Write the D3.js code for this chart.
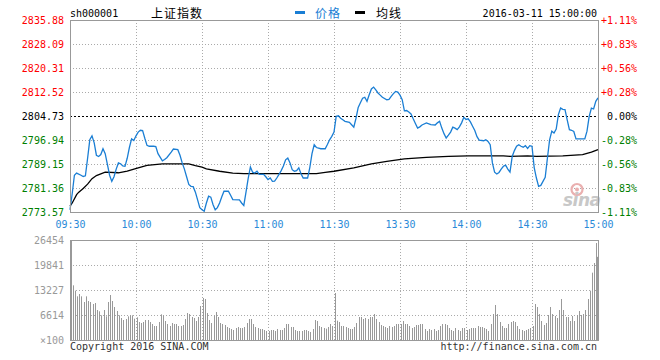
<!DOCTYPE html>
<html><head><meta charset="utf-8">
<script src="https://cdn.jsdelivr.net/npm/d3@7"></script>
<style>body{margin:0;background:#fff}svg{display:block}</style>
</head><body>
<svg id="c" width="660" height="360"></svg>
<script>
const preClose = 2804.73;
const priceTicks = [2835.88,2828.09,2820.31,2812.52,2804.73,2796.94,2789.15,2781.36,2773.57];
const pctTicks = ["+1.11%","+0.83%","+0.56%","+0.28%","0.00%","-0.28%","-0.56%","-0.83%","-1.11%"];
const timeTickIdx = [0,30,60,90,120,150,180,210,240];
const timeLabels = ["09:30","10:00","10:30","11:00","11:30","13:30","14:00","14:30","15:00"];
const volTicks = [26454,19841,13227,6614,0];
const volTickLabels = ["26454","19841","13227","6614","×100"];
// [minute index from 09:30 (afternoon continues after 11:30), price]
const priceSeries = [[0,2774.3],[1,2779.5],[2,2785.5],[3,2786.2],[5,2785.5],[6,2785.1],[7,2785.3],[8,2791.0],[9,2797.0],[10,2798.3],[11,2796.0],[12,2792.0],[13,2791.6],[14,2792.2],[15,2794.1],[16,2792.5],[17,2789.0],[18,2785.5],[19,2783.5],[20,2785.0],[21,2787.5],[22,2789.5],[23,2789.2],[24,2788.5],[25,2788.4],[26,2791.0],[27,2794.5],[28,2797.3],[29,2796.8],[30,2798.3],[31,2799.5],[32,2800.1],[33,2800.0],[34,2797.5],[35,2795.2],[36,2794.9],[38,2794.9],[39,2794.8],[40,2792.5],[42,2790.2],[43,2790.6],[44,2791.2],[46,2793.0],[47,2794.0],[49,2793.8],[50,2792.0],[51,2789.5],[52,2787.5],[53,2785.0],[54,2782.5],[55,2781.9],[56,2781.8],[57,2780.0],[58,2777.5],[59,2775.0],[60,2774.3],[61,2773.8],[62,2776.5],[63,2778.7],[64,2778.4],[65,2776.0],[66,2774.3],[67,2775.0],[68,2776.5],[69,2778.5],[70,2780.3],[72,2780.3],[73,2779.0],[74,2777.6],[77,2777.5],[78,2776.5],[79,2775.7],[80,2780.0],[81,2784.5],[82,2788.2],[83,2786.5],[84,2786.2],[85,2786.8],[86,2785.8],[88,2785.8],[89,2785.0],[90,2784.1],[91,2784.6],[92,2783.5],[93,2783.6],[94,2784.6],[95,2785.8],[96,2787.0],[97,2788.5],[98,2790.5],[99,2791.1],[100,2789.5],[101,2787.3],[102,2786.8],[103,2787.0],[104,2787.9],[105,2786.0],[106,2784.6],[108,2784.6],[109,2788.0],[110,2792.5],[111,2795.4],[112,2794.5],[114,2794.1],[116,2794.1],[117,2795.5],[118,2797.0],[119,2798.1],[120,2799.5],[121,2804.6],[122,2804.8],[123,2804.0],[124,2803.5],[125,2803.0],[127,2802.7],[128,2801.9],[129,2801.1],[130,2804.0],[131,2807.5],[132,2809.0],[133,2810.5],[134,2810.8],[135,2809.5],[136,2811.6],[137,2813.5],[138,2814.1],[139,2813.2],[140,2812.2],[141,2811.5],[142,2810.8],[144,2810.0],[145,2810.1],[146,2811.1],[147,2812.0],[148,2812.7],[149,2812.5],[150,2811.5],[151,2810.0],[152,2806.4],[153,2806.5],[154,2806.0],[155,2805.4],[156,2803.8],[157,2802.3],[158,2800.8],[159,2801.2],[160,2801.8],[162,2802.5],[164,2801.9],[166,2801.8],[167,2802.5],[168,2803.0],[169,2800.8],[170,2799.0],[171,2797.6],[172,2798.5],[173,2799.5],[174,2801.1],[175,2800.8],[176,2800.3],[177,2801.2],[178,2802.5],[179,2804.3],[180,2803.6],[181,2803.8],[182,2802.8],[183,2801.4],[184,2800.0],[185,2798.0],[186,2796.9],[188,2796.7],[189,2797.0],[190,2796.5],[191,2795.4],[192,2789.5],[193,2786.5],[194,2785.9],[195,2786.4],[196,2787.5],[197,2788.4],[198,2788.8],[199,2787.5],[200,2786.5],[201,2791.6],[202,2793.5],[203,2794.9],[204,2795.4],[205,2794.9],[206,2794.6],[207,2795.1],[208,2794.2],[209,2795.1],[210,2794.9],[211,2788.0],[212,2784.6],[213,2781.9],[214,2782.2],[215,2783.5],[216,2784.8],[217,2791.0],[218,2797.0],[219,2799.8],[220,2799.2],[221,2800.5],[222,2805.2],[223,2807.3],[224,2806.9],[225,2806.8],[226,2803.5],[227,2800.3],[228,2800.1],[229,2799.7],[230,2797.3],[232,2797.3],[234,2797.3],[235,2799.8],[236,2804.6],[237,2807.3],[238,2807.0],[239,2809.5],[240,2810.6]];
const avgSeries = [[0,2775.5],[1,2776.5],[3,2779.2],[4,2780.0],[6,2781.2],[8,2782.6],[9,2783.5],[10,2784.4],[12,2785.4],[16,2786.5],[22,2786.3],[26,2786.8],[31,2787.9],[35,2788.7],[42,2789.2],[54,2789.2],[57,2788.6],[60,2788.1],[62,2787.6],[68,2786.8],[74,2786.2],[79,2786.0],[112,2786.0],[116,2786.4],[120,2786.8],[129,2787.9],[137,2789.2],[144,2790.0],[152,2790.8],[162,2791.3],[172,2791.6],[181,2791.8],[197,2791.8],[200,2791.6],[208,2791.8],[212,2791.6],[224,2791.8],[233,2792.2],[237,2793.0],[240,2793.8]];
// volume per minute (x100)
const volumes = [26454,14462,13051,11552,12169,11552,10053,11552,10317,10053,
9523,9788,7936,7583,6525,7936,6261,10053,11904,10317,
8730,7672,6525,5820,5291,5555,6261,6525,6525,5644,
5996,4762,4497,4762,5291,5291,4762,4233,3704,3704,
4762,6790,6525,5026,4233,3704,4497,4233,4233,3704,
3704,3968,5555,7143,6878,6084,5820,5026,6084,8994,
11111,10846,7143,5291,4497,6525,7407,6084,4497,4233,
3968,3439,3174,2910,2645,3174,3439,3174,3174,3439,
4497,5555,5555,4233,3439,3174,2910,2910,2645,2381,
2381,2645,2645,2381,2910,2645,2645,3174,4233,4233,
3439,3439,2645,2381,2381,2381,2645,2645,2381,2116,
2910,5291,5026,3704,3439,3174,2998,3439,4233,3704,
12433,5114,4762,3704,3704,3439,3174,2910,2910,3439,
4497,6084,6084,5555,5820,5555,6084,6084,6878,5555,
4762,3968,3704,3439,3174,3704,3439,3704,4233,4233,
4233,5026,4233,4233,3704,3174,3439,3968,3968,4233,
4233,2910,2381,2910,2645,2910,2381,2645,3704,4233,
4233,3968,3174,2645,2381,3174,2645,2381,3174,3174,
2645,2910,3174,3174,3174,3704,3439,3439,3174,2910,
2381,4233,6878,9259,6878,4762,3704,3174,3174,4233,
4762,5026,4762,3704,2910,2645,2381,2645,2910,3174,
3704,9523,8730,6878,5026,3968,4497,6614,8730,6878,
6349,5820,7936,10846,7936,6084,6084,5026,6349,5026,
6614,7672,6614,6878,7936,10846,13051,17812,20370,25660,
22000];

const mono = "'DejaVu Sans Mono', 'Liberation Mono', monospace";
const cjk = "'Noto Sans CJK SC', 'Noto Sans', sans-serif";
const svg = d3.select("#c");
const L = 70, R = 598, T = 20, B = 212, VT = 240, VB = 340;
const x = d3.scaleLinear().domain([0, 240]).range([L, R]);
const y = d3.scaleLinear().domain([2773.57, 2835.88]).range([B, T]);
const yv = d3.scaleLinear().domain([0, 26454]).range([VB, VT]);
const crisp = v => Math.round(v) + 0.5;
const gridCol = "#aaa", borderCol = "#999";

// price grid
const g = svg.append("g");
g.selectAll(".hg").data(priceTicks.filter(p => p !== priceTicks[0] && p !== priceTicks[8] && p !== preClose))
  .enter().append("line").attr("x1", L).attr("x2", R)
  .attr("y1", d => crisp(y(d))).attr("y2", d => crisp(y(d)))
  .attr("stroke", gridCol).attr("stroke-dasharray", "1,2");
g.selectAll(".vg").data(timeTickIdx.slice(1, -1)).enter().append("line")
  .attr("x1", d => crisp(x(d))).attr("x2", d => crisp(x(d))).attr("y1", T).attr("y2", B)
  .attr("stroke", gridCol).attr("stroke-dasharray", "1,2");
g.append("line").attr("x1", L).attr("x2", R).attr("y1", crisp(y(preClose))).attr("y2", crisp(y(preClose)))
  .attr("stroke", "#000").attr("stroke-dasharray", "2,2");

// volume grid
svg.selectAll(".vhg").data(volTicks.slice(1, -1)).enter().append("line")
  .attr("x1", L).attr("x2", R).attr("y1", d => crisp(yv(d))).attr("y2", d => crisp(yv(d)))
  .attr("stroke", gridCol).attr("stroke-dasharray", "1,2");
svg.selectAll(".vvg").data(timeTickIdx.slice(1, -1)).enter().append("line")
  .attr("x1", d => crisp(x(d))).attr("x2", d => crisp(x(d))).attr("y1", VT).attr("y2", VB)
  .attr("stroke", gridCol).attr("stroke-dasharray", "1,2");

// volume bars
svg.selectAll(".bar").data(volumes).enter().append("rect")
  .attr("x", (d, i) => Math.min(Math.floor(x(i)) + 1, R - 1))
  .attr("width", 1)
  .attr("y", d => yv(d)).attr("height", d => VB - yv(d))
  .attr("fill", "#999");

// sina logo
const logo = svg.append("g");
logo.append("circle").attr("cx", 577).attr("cy", 189.5).attr("r", 5.5).attr("fill", "none").attr("stroke", "#eab0b0").attr("stroke-width", 2.2);
logo.append("circle").attr("cx", 577).attr("cy", 189.5).attr("r", 2).attr("fill", "#eab0b0");
logo.append("text").attr("x", 563).attr("y", 206).text("sina")
  .attr("font-family", "'DejaVu Sans', sans-serif").attr("font-style", "italic").attr("font-weight", "bold")
  .attr("font-size", 17).attr("fill", "#c8c8c8").attr("letter-spacing", -0.5);

// lines
const line = d3.line().x(d => x(d[0])).y(d => y(d[1]));
svg.append("path").datum(avgSeries).attr("d", line).attr("fill", "none").attr("stroke", "#000").attr("stroke-width", 1.3);
svg.append("path").datum(priceSeries).attr("d", line).attr("fill", "none").attr("stroke", "#1a7ed4").attr("stroke-width", 1.3);

// borders
svg.append("rect").attr("x", L + 0.5).attr("y", T + 0.5).attr("width", R - L).attr("height", B - T)
  .attr("fill", "none").attr("stroke", borderCol);
svg.append("rect").attr("x", L + 0.5).attr("y", VT + 0.5).attr("width", R - L).attr("height", VB - VT)
  .attr("fill", "none").attr("stroke", borderCol);

// axes
const colFor = p => p > preClose ? "#f00" : (p < preClose ? "#008000" : "#000");
const ax = svg.append("g").attr("transform", `translate(${L},0)`)
  .call(d3.axisLeft(y).tickValues(priceTicks).tickSize(0).tickPadding(6).tickFormat(d3.format(".2f")));
ax.select(".domain").remove();
ax.selectAll("text").attr("font-family", mono).attr("font-size", 10).attr("fill", d => colFor(d));

const axR = svg.append("g").attr("transform", `translate(${R},0)`)
  .call(d3.axisRight(y).tickValues(priceTicks).tickSize(0).tickPadding(39).tickFormat((d, i) => pctTicks[i]));
axR.select(".domain").remove();
axR.selectAll("text").attr("text-anchor", "end").attr("font-family", mono).attr("font-size", 10).attr("fill", d => colFor(d));

const axB = svg.append("g").attr("transform", `translate(0,${B})`)
  .call(d3.axisBottom(x).tickValues(timeTickIdx).tickSize(0).tickFormat((d, i) => timeLabels[i]));
axB.select(".domain").remove();
axB.selectAll("text").attr("y", 15.5).attr("dy", 0).attr("font-family", mono).attr("font-size", 10).attr("fill", "#2a8ad8");

const axV = svg.append("g").attr("transform", `translate(${L},0)`)
  .call(d3.axisLeft(yv).tickValues(volTicks).tickSize(0).tickPadding(6).tickFormat((d, i) => volTickLabels[i]));
axV.select(".domain").remove();
axV.selectAll("text").attr("font-family", mono).attr("font-size", 10).attr("fill", "#999");

// header
const txt = (xx, yy, s, o) => {
  const t = svg.append("text").attr("x", xx).attr("y", yy).text(s)
    .attr("font-family", o.font || mono).attr("font-size", o.size || 10).attr("fill", o.fill || "#000");
  if (o.anchor) t.attr("text-anchor", o.anchor);
  if (o.ls) t.attr("letter-spacing", o.ls);
  return t;
};
txt(70, 16.5, "sh000001", {});
txt(151, 17.5, "上证指数", {font: cjk, size: 12, ls: 1});
svg.append("rect").attr("x", 295).attr("y", 11).attr("width", 10).attr("height", 3).attr("fill", "#1a7ed4");
txt(315, 17.5, "价格", {font: cjk, size: 12, fill: "#1a7ed4", ls: 1});
svg.append("rect").attr("x", 355).attr("y", 11).attr("width", 10).attr("height", 3).attr("fill", "#000");
txt(376, 17.5, "均线", {font: cjk, size: 12, ls: 1});
txt(597, 16.5, "2016-03-11 15:00:00", {anchor: "end"});

// footer
txt(70, 350, "Copyright 2016 SINA.COM", {fill: "#333"});
txt(597, 350, "http://finance.sina.com.cn", {fill: "#333", anchor: "end"});
</script>
</body></html>
